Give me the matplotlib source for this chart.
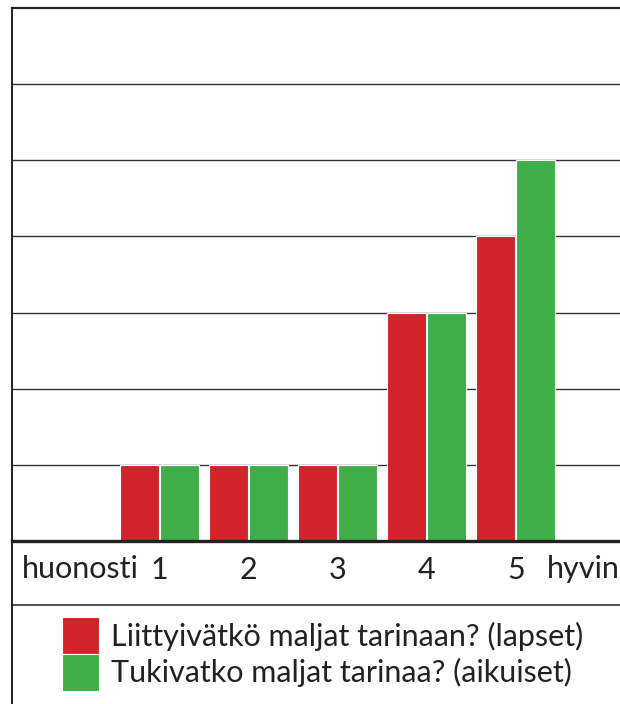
import matplotlib.pyplot as plt
import numpy as np
from matplotlib.patches import Patch
from matplotlib.lines import Line2D

plt.rcParams['font.family'] = ['Lato', 'DejaVu Sans']

categories = ['1', '2', '3', '4', '5']
lapset = [1, 1, 1, 3, 4]
aikuiset = [1, 1, 1, 3, 5]
series_labels = ['Liittyivätkö maljat tarinaan? (lapset)',
                 'Tukivatko maljat tarinaa? (aikuiset)']
red = '#d2232a'
green = '#3fae49'
ink = '#222222'

W, H = 620, 704
fig = plt.figure(figsize=(W / 100, H / 100), dpi=100)
ax = fig.add_axes([12 / W, (H - 541) / H, 608 / W, (541 - 8) / H])

x = np.arange(1, len(categories) + 1)
w = 0.44
ax.bar(x - w / 2 - 0.005, lapset, width=w, color=red, edgecolor='white', linewidth=0.8, zorder=3)
ax.bar(x + w / 2 + 0.005, aikuiset, width=w, color=green, edgecolor='white', linewidth=0.8, zorder=3)

ax.set_xlim(-0.66, 6.17)
ax.set_ylim(0, 7)
for yv in range(1, 7):
    ax.axhline(yv, color='#333333', linewidth=1.0, zorder=1)

ax.spines['right'].set_visible(False)
ax.spines['top'].set_linewidth(1.6)
ax.spines['top'].set_color(ink)
ax.spines['left'].set_linewidth(1.4)
ax.spines['left'].set_color(ink)
ax.spines['bottom'].set_linewidth(2.4)
ax.spines['bottom'].set_color(ink)
ax.spines['bottom'].set_zorder(4)

ax.set_yticks([])
ax.set_xticks(x)
ax.set_xticklabels(categories, fontsize=22, color=ink)
ax.tick_params(axis='x', length=0, pad=11)
ax.text(0.76, -0.37, 'huonosti', ha='right', va='center', fontsize=22, color=ink)
ax.text(5.35, -0.37, 'hyvin', ha='left', va='center', fontsize=22, color=ink, clip_on=False)

# separator and left border below the axes
fig.add_artist(Line2D([12 / W, 1], [(H - 605) / H] * 2, color='#333333', linewidth=1.2))
fig.add_artist(Line2D([12 / W] * 2, [0, (H - 541) / H], color=ink, linewidth=1.4))

handles = [Patch(facecolor=red, edgecolor='white', linewidth=0.8),
           Patch(facecolor=green, edgecolor='white', linewidth=0.8)]
fig.legend(handles, series_labels, loc='upper left', bbox_to_anchor=(62 / W, (H - 617) / H),
           frameon=False, fontsize=22, handlelength=1.21, handleheight=1.48,
           handletextpad=0.39, labelspacing=0.0, borderaxespad=0, borderpad=0,
           labelcolor=ink)

fig.savefig('out.png', dpi=100)
